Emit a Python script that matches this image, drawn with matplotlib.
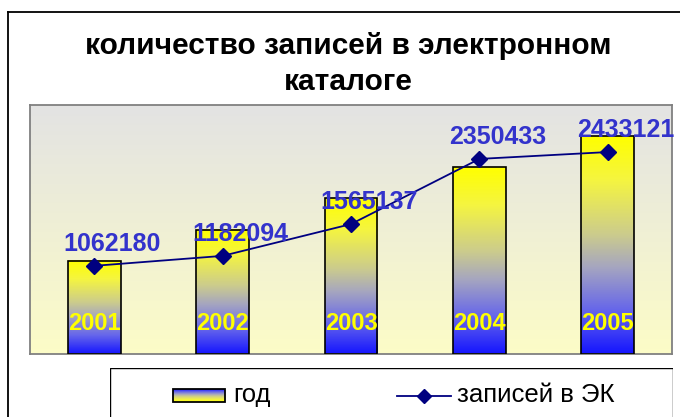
import matplotlib
matplotlib.use('Agg')
import matplotlib.pyplot as plt
import numpy as np
from matplotlib.colors import LinearSegmentedColormap
from matplotlib.patches import Rectangle
from matplotlib.lines import Line2D

plt.rcParams['font.family'] = ['Liberation Sans', 'DejaVu Sans']

# data
years = [2001, 2002, 2003, 2004, 2005]
records = [1062180, 1182094, 1565137, 2350433, 2433121]
title = 'количество записей в электронном\nкаталоге'
bar_label = 'год'
line_label = 'записей в ЭК'

W, H = 680, 417
fig = plt.figure(figsize=(W / 100, H / 100), dpi=100)
fig.patch.set_facecolor('white')

def fx(px):
    return px / W

def fy(py):
    return 1 - py / H

# gradients
bar_cmap = LinearSegmentedColormap.from_list('bar', [
    (0.0, (0.08, 0.08, 1.0)),
    (0.2, (0.40, 0.40, 0.92)),
    (0.4, (0.65, 0.65, 0.75)),
    (0.55, (0.80, 0.80, 0.55)),
    (0.8, (0.96, 0.96, 0.25)),
    (1.0, (1.0, 1.0, 0.0)),
])
bg_cmap = LinearSegmentedColormap.from_list('bg', [
    (0.0, (0.99, 0.99, 0.78)),
    (1.0, (0.89, 0.89, 0.89)),
])
grad = np.linspace(0, 1, 256).reshape(-1, 1)

# plot area
ax = fig.add_axes([fx(30), fy(354), fx(672) - fx(30), fy(105) - fy(354)])
x = np.arange(len(years))
ax.imshow(grad, cmap=bg_cmap, origin='lower', aspect='auto',
          extent=(-0.5, len(years) - 0.5, 1998, 2006), zorder=0)

width = 0.41
bars = ax.bar(x, [y - 1998 for y in years], bottom=1998, width=width,
              facecolor='none', edgecolor='black', linewidth=1.2, zorder=3)
for b in bars:
    x0, y0 = b.get_x(), b.get_y()
    ax.imshow(grad, cmap=bar_cmap, origin='lower', aspect='auto',
              extent=(x0, x0 + b.get_width(), y0, y0 + b.get_height()), zorder=2)
ax.set_xlim(-0.5, len(years) - 0.5)
ax.set_ylim(1998, 2006)

for xi, yr in zip(x, years):
    ax.annotate(str(yr), (xi, 1998), xytext=(0, 30), textcoords='offset pixels',
                ha='center', va='center', color='#FFFF00', fontsize=17,
                fontweight='bold', zorder=5)

ax.set_xticks([])
ax.set_yticks([])
for s in ax.spines.values():
    s.set_color('#808080')
    s.set_linewidth(1.3)

# secondary axis for the line
ax2 = ax.twinx()
ax2.set_ylim(0, 3000000)
ax2.plot(x, records, color='#000080', linewidth=1.3, marker='D',
         markersize=8, markerfacecolor='#000080', markeredgecolor='#000080',
         zorder=6)
for xi, v in zip(x, records):
    ax2.annotate(str(v), (xi, v), xytext=(18, 22), textcoords='offset pixels',
                 ha='center', va='center', color='#3333CC', fontsize=18,
                 fontweight='bold', annotation_clip=False, zorder=7)
ax2.set_yticks([])
ax2.set_xticks([])
for s in ax2.spines.values():
    s.set_visible(False)

# title
fig.text(fx(348), fy(64), title, ha='center', va='center', fontsize=21.5,
         fontweight='bold', linespacing=1.35)

# outer chart border (cropped on right and bottom)
fig.add_artist(Line2D([fx(8), fx(8)], [fy(12), 0], color='black', linewidth=1.3))
fig.add_artist(Line2D([fx(8), 1], [fy(12), fy(12)], color='black', linewidth=1.3))

# legend
lax = fig.add_axes([fx(110), 0, fx(673) - fx(110), fy(368)])
lax.axis('off')
lax.add_patch(Rectangle((110, 368), 563, 60, facecolor='white',
                        edgecolor='black', linewidth=1.0))
lax.imshow(grad, cmap=bar_cmap, origin='upper', aspect='auto',
           extent=(173, 225, 402, 389), zorder=3)
lax.add_patch(Rectangle((173, 389), 52, 13, facecolor='none',
                        edgecolor='black', linewidth=1.3, zorder=4))
lax.text(233, 395, bar_label, ha='left', va='center', fontsize=18.5)
lax.plot([397, 451], [396, 396], color='#000080', linewidth=1.3)
lax.plot([424], [396], marker='D', markersize=7, color='#000080')
lax.text(457, 395, line_label, ha='left', va='center', fontsize=18.5)
lax.set_xlim(110, 673)
lax.set_ylim(417, 368)

fig.savefig('out.png', dpi=100)
